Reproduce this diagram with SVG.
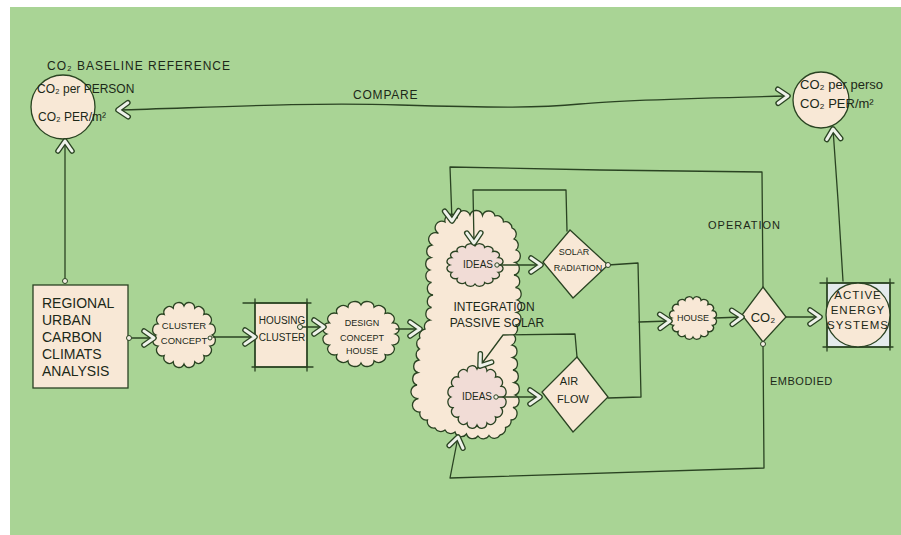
<svg xmlns="http://www.w3.org/2000/svg" xmlns:xlink="http://www.w3.org/1999/xlink" width="901" height="535" viewBox="0 0 901 535">
<style>
  .ln{fill:none;stroke:#2a4322;stroke-width:1.3;stroke-linejoin:round;stroke-linecap:round}
  .cr{fill:#f8e8d6;stroke:#2a4322;stroke-width:1.3}
  .pk{fill:#f1dcd6;stroke:#2a4322;stroke-width:1.3}
  .dot{fill:#f4efe4;stroke:#2a4322;stroke-width:1}
  .t{font-family:"Liberation Sans",Arial,sans-serif;fill:#1c2818}
  .m{text-anchor:middle}
</style>
<defs>
  <marker id="chev" viewBox="0 0 20 20" refX="15" refY="10" markerWidth="20" markerHeight="20" markerUnits="userSpaceOnUse" orient="auto-start-reverse" overflow="visible">
    <path d="M5,3 L15,10 L5,17" fill="none" stroke="#2a4322" stroke-width="5.6" stroke-linecap="round" stroke-linejoin="round"/>
    <path d="M5,3 L15,10 L5,17" fill="none" stroke="#eef2ea" stroke-width="3" stroke-linecap="round" stroke-linejoin="round"/>
  </marker>
  <path id="cloud" vector-effect="non-scaling-stroke" d="M1,0 A0.2,0.2 0 0 1 0.924,0.383 A0.2,0.2 0 0 1 0.707,0.707 A0.2,0.2 0 0 1 0.383,0.924 A0.2,0.2 0 0 1 0,1 A0.2,0.2 0 0 1 -0.383,0.924 A0.2,0.2 0 0 1 -0.707,0.707 A0.2,0.2 0 0 1 -0.924,0.383 A0.2,0.2 0 0 1 -1,0 A0.2,0.2 0 0 1 -0.924,-0.383 A0.2,0.2 0 0 1 -0.707,-0.707 A0.2,0.2 0 0 1 -0.383,-0.924 A0.2,0.2 0 0 1 0,-1 A0.2,0.2 0 0 1 0.383,-0.924 A0.2,0.2 0 0 1 0.707,-0.707 A0.2,0.2 0 0 1 0.924,-0.383 A0.2,0.2 0 0 1 1,0 Z"/>
</defs>

<rect x="0" y="0" width="901" height="535" fill="#ffffff"/>
<rect x="10" y="7" width="891" height="528" fill="#a9d495"/>

<text class="t" x="47" y="70" font-size="12" letter-spacing="1">CO₂ BASELINE REFERENCE</text>

<!-- nodes -->
<g id="baseline">
  <circle class="cr" cx="63" cy="107" r="32"/>
  <text class="t" x="37" y="93" font-size="12">CO₂ per PERSON</text>
  <text class="t" x="38" y="121" font-size="12">CO₂ PER/m²</text>
</g>

<g id="result">
  <circle class="cr" cx="821" cy="100" r="28"/>
  <text class="t" x="800" y="89" font-size="13">CO₂ per perso</text>
  <text class="t" x="800" y="108" font-size="13">CO₂ PER/m²</text>
</g>

<g id="analysis">
  <rect class="cr" x="33" y="285" width="95" height="103"/>
  <text class="t" x="42" y="308" font-size="14">REGIONAL</text>
  <text class="t" x="42" y="325" font-size="14">URBAN</text>
  <text class="t" x="42" y="342" font-size="14">CARBON</text>
  <text class="t" x="42" y="359" font-size="14">CLIMATS</text>
  <text class="t" x="42" y="376" font-size="14">ANALYSIS</text>
</g>

<g id="cluster-concept">
  <use href="#cloud" class="cr" transform="translate(184,335) scale(28,29)"/>
  <text class="t m" x="184" y="329" font-size="9.5">CLUSTER</text>
  <text class="t m" x="184" y="344" font-size="9.5">CONCEPT</text>
</g>

<g id="housing-cluster">
  <rect class="cr" x="255" y="303" width="52" height="64"/>
  <path class="ln" d="M243,303 L311,303 M252,367 L313,367 M255,299 L255,371 M307,299 L307,371"/>
  <text class="t m" x="282" y="324" font-size="10">HOUSING</text>
  <text class="t m" x="282" y="341" font-size="10">CLUSTER</text>
</g>

<g id="design-concept">
  <use href="#cloud" class="cr" transform="translate(361,334) scale(34,29)"/>
  <text class="t m" x="362" y="326" font-size="9">DESIGN</text>
  <text class="t m" x="362" y="341" font-size="9">CONCEPT</text>
  <text class="t m" x="362" y="354" font-size="9">HOUSE</text>
</g>

<g id="integration">
  <path class="cr" d="M445,222 A6.5,6.5 0 0 1 457.5,218.5 A6.5,6.5 0 0 1 470,215 A6.5,6.5 0 0 1 482.5,215.5 A6.5,6.5 0 0 1 495,216 A6.5,6.5 0 0 1 503.5,222 A6.5,6.5 0 0 1 512,228 A6.5,6.5 0 0 1 514,239 A6.5,6.5 0 0 1 516,250 A6.5,6.5 0 0 1 515,262.5 A6.5,6.5 0 0 1 514,275 A6.5,6.5 0 0 1 515.5,287.5 A6.5,6.5 0 0 1 517,300 A6.5,6.5 0 0 1 516.5,312.5 A6.5,6.5 0 0 1 516,325 A6.5,6.5 0 0 1 514,335 A6.5,6.5 0 0 1 512,345 A6.5,6.5 0 0 1 512.5,357.5 A6.5,6.5 0 0 1 513,370 A6.5,6.5 0 0 1 514,382.5 A6.5,6.5 0 0 1 515,395 A6.5,6.5 0 0 1 513,407.5 A6.5,6.5 0 0 1 511,420 A6.5,6.5 0 0 1 505.5,427.5 A6.5,6.5 0 0 1 500,435 A6.5,6.5 0 0 1 489,435.5 A6.5,6.5 0 0 1 478,436 A6.5,6.5 0 0 1 466.5,434 A6.5,6.5 0 0 1 455,432 A6.5,6.5 0 0 1 445,430 A6.5,6.5 0 0 1 435,428 A6.5,6.5 0 0 1 427.5,420 A6.5,6.5 0 0 1 420,412 A6.5,6.5 0 0 1 418.5,398.5 A6.5,6.5 0 0 1 417,385 A6.5,6.5 0 0 1 418,372.5 A6.5,6.5 0 0 1 419,360 A6.5,6.5 0 0 1 419.5,349 A6.5,6.5 0 0 1 420,338 A6.5,6.5 0 0 1 425,329 A6.5,6.5 0 0 1 430,320 A6.5,6.5 0 0 1 431.5,307.5 A6.5,6.5 0 0 1 433,295 A6.5,6.5 0 0 1 431.5,282.5 A6.5,6.5 0 0 1 430,270 A6.5,6.5 0 0 1 431,257.5 A6.5,6.5 0 0 1 432,245 A6.5,6.5 0 0 1 438.5,233.5 A6.5,6.5 0 0 1 445,222 Z"/>
  <text class="t m" x="494" y="311" font-size="12">INTEGRATION</text>
  <text class="t m" x="497" y="327" font-size="12">PASSIVE SOLAR</text>
</g>

<g id="ideas-top">
  <use href="#cloud" class="pk" transform="translate(475,265) scale(25,19)"/>
  <text class="t m" x="478" y="268" font-size="10">IDEAS</text>
</g>

<g id="ideas-bottom">
  <use href="#cloud" class="pk" transform="translate(477,397) scale(26,28)"/>
  <text class="t m" x="477" y="400" font-size="10">IDEAS</text>
</g>

<g id="solar-radiation">
  <polygon class="cr" points="570,230 608,265 573,298 543,262"/>
  <text class="t m" x="574" y="255" font-size="9">SOLAR</text>
  <text class="t m" x="578" y="271" font-size="9">RADIATION</text>
</g>

<g id="air-flow">
  <polygon class="cr" points="577,357 608,397 573,432 542,392"/>
  <text class="t m" x="569" y="385" font-size="11">AIR</text>
  <text class="t m" x="573" y="403" font-size="11">FLOW</text>
</g>

<g id="house">
  <use href="#cloud" class="cr" transform="translate(693,318) scale(21,19)"/>
  <text class="t m" x="693" y="321" font-size="9">HOUSE</text>
</g>

<g id="co2">
  <polygon class="cr" points="763,287 786,317 763,342 742,315"/>
  <text class="t m" x="763" y="322" font-size="13">CO₂</text>
</g>

<g id="active-energy">
  <rect x="827" y="283" width="63" height="64" fill="#e4ebec" stroke="#2a4322" stroke-width="1.3"/>
  <path class="ln" d="M820,283 L894,283 M823,347 L893,347 M827,278 L827,351 M890,279 L890,350"/>
  <circle class="cr" cx="858" cy="315" r="32"/>
  <text class="t m" x="858" y="299" font-size="11.5" letter-spacing="1">ACTIVE</text>
  <text class="t m" x="858" y="314" font-size="11.5" letter-spacing="1">ENERGY</text>
  <text class="t m" x="858" y="329" font-size="11.5" letter-spacing="1">SYSTEMS</text>
</g>

<!-- connectors -->
<g id="connectors">
  <path class="ln" marker-start="url(#chev)" marker-end="url(#chev)" d="M118,110 C200,108 300,102 400,105 S540,108 580,104 S700,98 788,96"/>
  <path class="ln" marker-end="url(#chev)" d="M65,280 L65,141"/>
  <path class="ln" marker-end="url(#chev)" d="M129,338 L154,338"/>
  <path class="ln" marker-end="url(#chev)" d="M213,337 L255,337"/>
  <path class="ln" marker-end="url(#chev)" d="M300,327 L324,327"/>
  <path class="ln" marker-end="url(#chev)" d="M396,329 L420,329"/>
  <path class="ln" marker-end="url(#chev)" d="M763,287 L762,172 L600,170 L450,167 L452,221"/>
  <path class="ln" marker-end="url(#chev)" d="M567,231 L566,190 L473,190 L474,243"/>
  <path class="ln" marker-end="url(#chev)" d="M498,265 L541,265"/>
  <path class="ln" d="M608,265 L638,263 L641,397 L608,398"/>
  <path class="ln" marker-end="url(#chev)" d="M639,322 L670,321"/>
  <path class="ln" marker-end="url(#chev)" d="M577,357 L575,334 L503,335 L480,366"/>
  <path class="ln" marker-end="url(#chev)" d="M496,397 L540,397"/>
  <path class="ln" marker-end="url(#chev)" d="M715,318 L742,317"/>
  <path class="ln" marker-end="url(#chev)" d="M786,317 L820,317"/>
  <path class="ln" marker-end="url(#chev)" d="M763,343 L764,468 L450,478 L458,437"/>
  <path class="ln" marker-end="url(#chev)" d="M843,281 L838,200 L833,129"/>
  <circle class="dot" cx="65" cy="281" r="2.5"/>
  <circle class="dot" cx="129" cy="338" r="2.5"/>
  <circle class="dot" cx="210" cy="338" r="2"/>
  <circle class="dot" cx="300" cy="327" r="2.5"/>
  <circle class="dot" cx="497" cy="265" r="2.2"/>
  <circle class="dot" cx="496" cy="397" r="2.2"/>
  <circle class="dot" cx="608" cy="265" r="2.5"/>
  <circle class="dot" cx="763" cy="344" r="2.5"/>
  <text class="t" x="353" y="99" font-size="12" letter-spacing="0.8">COMPARE</text>
  <text class="t" x="708" y="229" font-size="11" letter-spacing="1">OPERATION</text>
  <text class="t" x="770" y="385" font-size="11" letter-spacing="0.5">EMBODIED</text>
</g>
</svg>
